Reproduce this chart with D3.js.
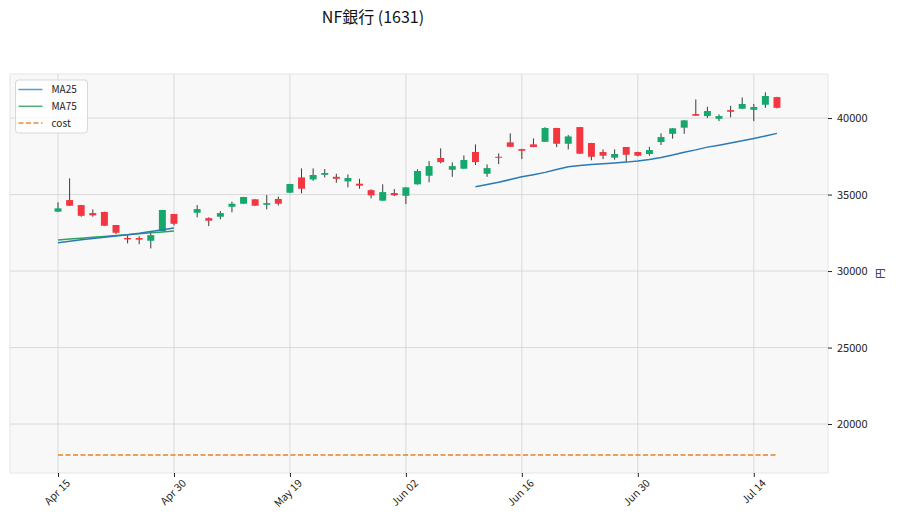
<!DOCTYPE html>
<html>
<head>
<meta charset="utf-8">
<script src="https://cdn.jsdelivr.net/npm/d3@7"></script>
<style>
  body { margin: 0; background: #fff; }
  text { font-family: "Noto Sans CJK JP", "Noto Sans", sans-serif; }
</style>
</head>
<body>
<div id="chart"></div>
<script>
// trading-day index 0..62, index 11 has no data
const opens  = [33880,34640,34310,33790,33860,33010,32160,32160,31980,32610,33730,null,33810,33460,33550,34200,34400,34690,34330,34710,35120,36120,35990,36290,36160,35860,35710,35290,34600,35100,34920,35670,36230,37390,36620,36690,37780,36360,37470,38410,37970,38280,38450,39350,38320,39410,38370,37780,37410,38110,37780,37650,38430,38970,39370,40260,40130,39950,40520,40610,40540,40870,41370];
const highs  = [34490,36060,34330,34030,33880,33010,32330,32270,32500,34000,33730,null,34310,33510,33920,34530,34850,34700,34970,34860,35700,36710,36710,36670,36360,36320,36030,35340,35670,35360,35480,36650,37190,38020,37100,37560,38280,36970,37690,39000,37990,38670,39400,39360,38890,39420,38380,37950,37950,38110,37800,38120,39000,39340,39860,41220,40740,40240,40800,41350,40920,41680,41390];
const lows   = [33870,34250,33550,33550,32940,32420,31810,31750,31480,32600,32990,null,33510,32940,33380,33840,34390,34260,34030,34290,35090,35080,35900,36120,35770,35470,35380,34750,34590,34900,34380,35650,35800,37040,36160,36680,36930,36160,36990,38100,37320,38090,38440,38100,37950,37650,37240,37320,37280,37100,37500,37540,38240,38650,38970,40140,40000,39800,40050,40600,39800,40670,40630];
const closes = [34100,34270,33610,33640,32960,32500,32070,32050,32350,33990,33090,null,34050,33290,33790,34400,34840,34270,34440,34400,35690,35380,36280,36410,36030,36080,35580,34950,35160,34950,35470,36540,36860,37120,36860,37260,37120,36730,37410,38120,37860,38110,39350,38320,38800,37670,37470,37540,37650,37600,37540,37910,38760,39330,39850,40150,40460,40130,40410,40920,40720,41440,40670];

// moving averages as plotted (gaps where the chart shows none)
const ma25 = [31850,31950,32040,32130,32210,32290,32380,32470,32580,32700,32810,null,null,null,null,null,null,null,null,null,null,null,null,null,null,null,null,null,null,null,null,null,null,null,null,null,35510,35650,35800,35980,36160,36300,36450,36640,36820,36900,36960,37020,37070,37120,37190,37290,37420,37580,37760,37920,38100,38230,38370,38510,38670,38830,39000];
const ma75 = [32030,32090,32150,32210,32260,32320,32380,32440,32500,32560,32610];
const cost = 17970;

const tickIndex  = [0, 10, 20, 30, 40, 50, 60];
const tickLabels = ["Apr 15", "Apr 30", "May 19", "Jun 02", "Jun 16", "Jun 30", "Jul 14"];
const yTicks = [20000, 25000, 30000, 35000, 40000];

const upColor = "#14a86c";
const downColor = "#f3363f";
const wickColor = "#3c3c3c";

var width = 898, height = 526;
var margin = { top: 74, right: 70, bottom: 53, left: 10 };
var w = width - margin.left - margin.right;
var h = height - margin.top - margin.bottom;

var svg = d3.select("#chart").append("svg")
    .attr("width", width)
    .attr("height", height);

svg.append("text")
    .attr("x", 373)
    .attr("y", 23)
    .attr("text-anchor", "middle")
    .style("font-size", "16px")
    .attr("fill", "#111")
    .text("NF銀行 (1631)");

var g = svg.append("g").attr("transform", `translate(${margin.left}, ${margin.top})`);

var xScale = d3.scaleLinear().domain([-4.14, 66.4]).range([0, w]);
var yScale = d3.scaleLinear().domain([16800, 42880]).range([h, 0]);

g.append("rect")
    .attr("width", w).attr("height", h)
    .attr("fill", "#f8f8f8")
    .attr("stroke", "#e6e6e6");

// grid
g.append("g").selectAll("line").data(tickIndex).join("line")
    .attr("x1", d => xScale(d)).attr("x2", d => xScale(d))
    .attr("y1", 0).attr("y2", h)
    .attr("stroke", "#d2d2d2").attr("stroke-width", 0.8);
g.append("g").selectAll("line").data(yTicks).join("line")
    .attr("x1", 0).attr("x2", w)
    .attr("y1", d => yScale(d)).attr("y2", d => yScale(d))
    .attr("stroke", "#d2d2d2").attr("stroke-width", 0.8);

// axes
var xAxis = d3.axisBottom(xScale)
    .tickValues(tickIndex)
    .tickFormat((d, i) => tickLabels[i])
    .tickSize(4).tickPadding(3);
var xAxisG = g.append("g").attr("transform", `translate(0, ${h})`).call(xAxis);
xAxisG.select(".domain").remove();
xAxisG.selectAll(".tick line").attr("stroke", "#222");
xAxisG.selectAll("text")
    .style("font-size", "10.5px")
    .attr("fill", "#222")
    .attr("text-anchor", "end")
    .attr("dx", "0.1em")
    .attr("dy", "0.9em")
    .attr("transform", "rotate(-45)");

var yAxis = d3.axisRight(yScale).tickValues(yTicks).tickFormat(d3.format("d")).tickSize(4).tickPadding(5);
var yAxisG = g.append("g").attr("transform", `translate(${w}, 0)`).call(yAxis);
yAxisG.select(".domain").remove();
yAxisG.selectAll(".tick line").attr("stroke", "#222");
yAxisG.selectAll("text").style("font-size", "11px").attr("fill", "#222");

svg.append("text")
    .attr("transform", `translate(884, ${margin.top + h / 2}) rotate(-90)`)
    .attr("text-anchor", "middle")
    .style("font-size", "10.5px")
    .attr("fill", "#222")
    .text("円");

// candles
var candles = opens.map((o, i) => ({ i: i, o: o, h: highs[i], l: lows[i], c: closes[i] }))
    .filter(d => d.o != null);
var bw = (xScale(1) - xScale(0)) * 0.6;

var cg = g.append("g");
cg.selectAll(".wick").data(candles).join("line")
    .attr("class", "wick")
    .attr("x1", d => xScale(d.i)).attr("x2", d => xScale(d.i))
    .attr("y1", d => yScale(d.h)).attr("y2", d => yScale(d.l))
    .attr("stroke", wickColor).attr("stroke-width", 1);
cg.selectAll(".body").data(candles).join("rect")
    .attr("class", "body")
    .attr("x", d => xScale(d.i) - bw / 2)
    .attr("width", bw)
    .attr("y", d => yScale(Math.max(d.o, d.c)))
    .attr("height", d => Math.max(1, Math.abs(yScale(d.o) - yScale(d.c))))
    .attr("fill", d => d.c >= d.o ? upColor : downColor);

// moving averages and cost
var line = d3.line()
    .defined(d => d != null)
    .x((d, i) => xScale(i))
    .y(d => yScale(d));

g.append("path").datum(ma75).attr("d", line)
    .attr("fill", "none").attr("stroke", "#2ca25f").attr("stroke-width", 1.5);
g.append("path").datum(ma25).attr("d", line)
    .attr("fill", "none").attr("stroke", "#2a7ab5").attr("stroke-width", 1.5);
g.append("line")
    .attr("x1", xScale(0)).attr("x2", xScale(closes.length - 1))
    .attr("y1", yScale(cost)).attr("y2", yScale(cost))
    .attr("stroke", "#e8821e").attr("stroke-width", 1.5)
    .attr("stroke-dasharray", "5,2.5");

// legend
var legendItems = [
    { name: "MA25", color: "#5a9bc8", dash: null },
    { name: "MA75", color: "#4fae78", dash: null },
    { name: "cost", color: "#e8903e", dash: "5,2.5" }
];
var lg = svg.append("g").attr("transform", "translate(15.5, 80)");
lg.append("rect")
    .attr("width", 72).attr("height", 53).attr("rx", 3)
    .attr("fill", "#ffffff").attr("fill-opacity", 0.85)
    .attr("stroke", "#d8d8d8");
var li = lg.selectAll(".item").data(legendItems).join("g")
    .attr("transform", (d, i) => `translate(0, ${9.5 + i * 16.8})`);
li.append("line")
    .attr("x1", 3).attr("x2", 27)
    .attr("stroke", d => d.color).attr("stroke-width", 1.5)
    .attr("stroke-dasharray", d => d.dash);
li.append("text")
    .attr("x", 36).attr("y", 3.5)
    .style("font-size", "10px")
    .attr("fill", "#222")
    .text(d => d.name);
</script>
</body>
</html>
